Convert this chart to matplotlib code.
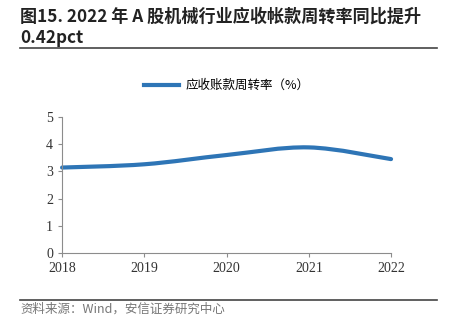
import matplotlib
matplotlib.use("Agg")
import matplotlib.pyplot as plt
from matplotlib.path import Path
from matplotlib.patches import PathPatch
from matplotlib.lines import Line2D

# data
years = [2018, 2019, 2020, 2021, 2022]
turnover = [3.14, 3.26, 3.60, 3.88, 3.45]
y_ticks = [0, 1, 2, 3, 4, 5]

title_1 = "图15. 2022 年 A 股机械行业应收帐款周转率同比提升"
title_2 = "0.42pct"
legend_label = "应收账款周转率（%）"
source_text = "资料来源：Wind，安信证券研究中心"

LINE_COLOR = "#2E75B6"
AXIS_COLOR = "#8C8C8C"
cjk = ["Noto Sans CJK SC", "DejaVu Sans"]
serif = ["Liberation Serif", "Noto Sans CJK SC"]


def smooth_path(xs, ys, t=1 / 6):
    # Excel-like smoothed line: cubic Bezier segments through every point
    verts = [(xs[0], ys[0])]
    codes = [Path.MOVETO]
    n = len(xs)
    for i in range(n - 1):
        x0, y0 = (xs[i - 1], ys[i - 1]) if i > 0 else (xs[i], ys[i])
        x1, y1 = xs[i], ys[i]
        x2, y2 = xs[i + 1], ys[i + 1]
        x3, y3 = (xs[i + 2], ys[i + 2]) if i + 2 < n else (x2, y2)
        c1 = (x1 + (x2 - x0) * t, y1 + (y2 - y0) * t)
        c2 = (x2 - (x3 - x1) * t, y2 - (y3 - y1) * t)
        verts += [c1, c2, (x2, y2)]
        codes += [Path.CURVE4] * 3
    return Path(verts, codes)


fig = plt.figure(figsize=(4.5, 3.33), dpi=100)

# title block
fig.text(0.045, 0.978, title_1, family=cjk, fontsize=12.3, fontweight="bold",
         color="#222222", va="top")
fig.text(0.045, 0.912, title_2, family=cjk, fontsize=12.3, fontweight="bold",
         color="#222222", va="top")
fig.add_artist(Line2D([0.045, 0.972], [0.855, 0.855], color="#444444", lw=1.2))

# source block
fig.add_artist(Line2D([0.045, 0.972], [0.099, 0.099], color="#444444", lw=1.2))
fig.text(0.045, 0.092, source_text, family=cjk, fontsize=9, style="italic",
         color="#777777", va="top")

ax = fig.add_axes([0.138, 0.240, 0.731, 0.409])
patch = PathPatch(smooth_path(years, turnover), facecolor="none",
                  edgecolor=LINE_COLOR, lw=3, capstyle="round", clip_on=False)
ax.add_patch(patch)

ax.set_xlim(years[0], years[-1])
ax.set_ylim(0, 5)
ax.set_xticks(years)
ax.set_yticks(y_ticks)
for s in ["top", "right"]:
    ax.spines[s].set_visible(False)
for s in ["left", "bottom"]:
    ax.spines[s].set_color(AXIS_COLOR)
    ax.spines[s].set_linewidth(0.8)
ax.tick_params(colors=AXIS_COLOR, length=3, width=0.8, labelcolor="#333333",
               labelsize=10)
for lab in ax.get_xticklabels() + ax.get_yticklabels():
    lab.set_family(serif)

ax.legend([Line2D([], [], color=LINE_COLOR, lw=3)], [legend_label],
          prop={"family": cjk, "size": 9}, frameon=False,
          loc="center", bbox_to_anchor=(0.5, 1.23), handlelength=2.8,
          handletextpad=0.5)

fig.savefig("out.png", dpi=100)
